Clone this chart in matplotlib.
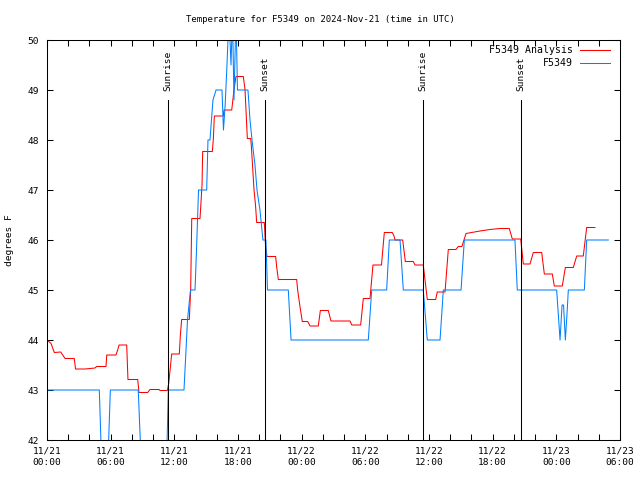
import matplotlib
matplotlib.use("Agg")
import matplotlib.pyplot as plt
import numpy as np

# hours since 2024-11-21 00:00 UTC
analysis_h = [0.00, 0.38, 0.69, 1.29, 1.70, 2.57, 2.69, 3.58, 4.52, 4.68, 5.56, 5.63, 6.50, 6.66, 6.79,
              7.51, 7.63, 8.55, 8.67, 9.49, 9.71, 10.56, 10.65, 11.34, 11.47, 11.75, 12.47, 12.56, 12.69,
              13.41, 13.54, 13.64, 14.42, 14.61, 14.67, 15.58, 15.68, 15.77, 16.61, 16.68, 17.41, 17.62,
              17.81, 18.50, 18.66, 18.88, 19.20, 19.26, 19.51, 19.65, 19.76, 20.48, 20.60, 20.73, 21.55,
              21.64, 21.80, 23.53, 23.62, 23.84, 24.06, 24.57, 24.79, 25.57, 25.76, 26.51, 26.76, 28.56,
              28.72, 29.56, 29.81, 30.44, 30.72, 31.52, 31.79, 32.54, 32.70, 32.80, 33.52, 33.77, 34.52,
              34.68, 35.46, 35.84, 36.63, 36.78, 37.51, 37.82, 38.54, 38.76, 39.10, 39.49, 40.81, 41.75,
              42.69, 43.57, 43.85, 44.64, 44.89, 45.52, 45.83, 46.62, 46.87, 47.62, 47.81, 48.56, 48.85,
              49.60, 49.92, 50.54, 50.86, 51.64]
analysis_v = [44.00, 43.93, 43.75, 43.76, 43.63, 43.63, 43.42, 43.42, 43.44, 43.47, 43.47, 43.70, 43.70, 43.80, 43.90,
              43.90, 43.21, 43.21, 42.95, 42.95, 43.01, 43.01, 42.99, 42.99, 43.13, 43.72, 43.72, 44.07, 44.41,
              44.41, 45.00, 46.43, 46.43, 47.10, 47.77, 47.77, 48.03, 48.48, 48.48, 48.60, 48.60, 49.00,
              49.27, 49.27, 49.01, 48.03, 48.03, 47.87, 47.00, 46.70, 46.35, 46.35, 45.87, 45.67, 45.67,
              45.47, 45.21, 45.21, 45.00, 44.67, 44.37, 44.37, 44.28, 44.28, 44.59, 44.59, 44.38, 44.38,
              44.30, 44.30, 44.83, 44.83, 45.50, 45.50, 46.15, 46.15, 46.08, 46.00, 46.00, 45.57, 45.57,
              45.50, 45.50, 44.81, 44.81, 44.96, 44.96, 45.81, 45.81, 45.87, 45.87, 46.13, 46.18, 46.21,
              46.23, 46.23, 46.02, 46.02, 45.52, 45.52, 45.75, 45.75, 45.32, 45.32, 45.08, 45.08, 45.45,
              45.45, 45.68, 45.68, 46.25, 46.25]

obs_h = [0.00, 4.93, 5.23, 5.65, 5.97, 8.60, 8.98, 11.21, 11.43, 12.91, 13.10, 13.24, 13.52, 13.95, 14.09,
         14.28, 15.05, 15.17, 15.36, 15.64, 15.93, 16.49, 16.63, 16.79, 16.96, 17.15, 17.34, 17.48, 17.62,
         17.81, 17.95, 18.94, 19.13, 19.32, 19.60, 19.79, 20.07, 20.35, 20.63, 20.78, 22.74, 23.00, 30.28,
         30.60, 32.01, 32.26, 33.27, 33.58, 35.46, 35.84, 37.04, 37.35, 39.02, 39.33, 44.10, 44.32, 48.03,
         48.35, 48.54, 48.68, 48.85, 49.00, 49.13, 50.64, 50.86, 52.90]
obs_v = [43.0, 43.0, 41.0, 41.0, 43.0, 43.0, 41.0, 41.0, 43.0, 43.0, 43.8, 44.4, 45.0, 45.0, 45.8,
         47.0, 47.0, 48.0, 48.0, 48.8, 49.0, 49.0, 48.2, 48.7, 49.5, 50.5, 49.5, 50.5, 48.8,
         50.5, 49.0, 49.0, 48.4, 48.0, 47.5, 47.0, 46.6, 46.0, 46.0, 45.0, 45.0, 44.0, 44.0,
         45.0, 45.0, 46.0, 46.0, 45.0, 45.0, 44.0, 44.0, 45.0, 45.0, 46.0, 46.0, 45.0, 45.0,
         44.0, 44.7, 44.7, 44.0, 44.5, 45.0, 45.0, 46.0, 46.0]

sun_labels = ["Sunrise", "Sunset", "Sunrise", "Sunset"]
sun_h = [11.40, 20.54, 35.43, 44.67]

tick_h = [0, 6, 12, 18, 24, 30, 36, 42, 48, 54]
tick_labels = ["11/21\n00:00", "11/21\n06:00", "11/21\n12:00", "11/21\n18:00", "11/22\n00:00",
               "11/22\n06:00", "11/22\n12:00", "11/22\n18:00", "11/23\n00:00", "11/23\n06:00"]
y_ticks = [42, 43, 44, 45, 46, 47, 48, 49, 50]

FONT = "DejaVu Sans Mono"
plt.rcParams['font.family'] = [FONT]
FS = 6.8

fig = plt.figure(figsize=(6.4, 4.8), dpi=100)
ax = fig.add_axes([47/640, 40/480, (620-47)/640, 400/480])

lw = 0.75
ax.plot(analysis_h, analysis_v, color="#ff0000", lw=lw, label="F5349 Analysis")
ax.plot(obs_h, obs_v, color="#0080ff", lw=lw, label="F5349")

for lab, h in zip(sun_labels, sun_h):
    ax.plot([h, h], [42, 48.8], color="black", lw=lw)
    ax.text(h, 48.98, lab, rotation=90, ha="center", va="bottom", fontsize=FS)

ax.set_xlim(0, 54)
ax.set_ylim(42, 50)
ax.set_xticks(tick_h)
ax.set_xticklabels(tick_labels, fontsize=FS, linespacing=1.35)
ax.set_xticks(np.arange(0, 55, 2), minor=True)
ax.set_yticks(y_ticks)
ax.set_yticklabels([str(v) for v in y_ticks], fontsize=FS)
ax.tick_params(axis="both", which="both", direction="in", length=4, width=0.75,
               top=True, right=True)
ax.tick_params(axis="x", which="major", pad=5)
ax.tick_params(axis="y", which="major", pad=6)
for s in ax.spines.values():
    s.set_linewidth(0.75)

LFS = 7.1
leg = ax.legend(loc="upper right", frameon=False, fontsize=LFS, markerfirst=False,
                handlelength=3.0, handletextpad=0.75, borderaxespad=0, borderpad=0,
                labelspacing=0.32, bbox_to_anchor=(1 - 10/573, 1 - 5/400))
for t in leg.get_texts():
    t.set_ha("right")

fig.text(0.5, 1 - 19/480, "Temperature for F5349 on 2024-Nov-21 (time in UTC)",
         ha="center", va="center", fontsize=6.45)
fig.text(10/640, 0.5, "degrees F", rotation=90, ha="center", va="center", fontsize=FS)

fig.savefig("out.png", dpi=100)
